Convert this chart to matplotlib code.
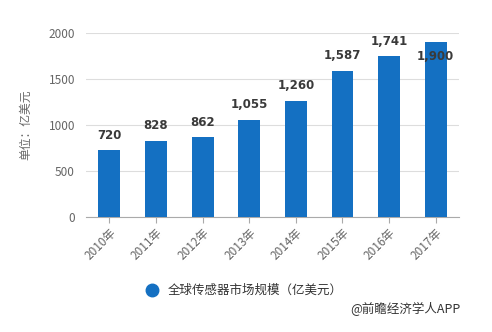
import matplotlib
matplotlib.use("Agg")
import matplotlib.pyplot as plt
from matplotlib.lines import Line2D

plt.rcParams['font.family'] = ['Noto Sans CJK SC', 'DejaVu Sans']

years = ["2010年", "2011年", "2012年", "2013年", "2014年", "2015年", "2016年", "2017年"]
values = [720, 828, 862, 1055, 1260, 1587, 1741, 1900]
yticks = [0, 500, 1000, 1500, 2000]
series_name = "全球传感器市场规模（亿美元）"
bar_color = "#1470c2"
gray = "#666666"

fig = plt.figure(figsize=(4.92, 3.32), dpi=100)
ax = fig.add_axes([0.175, 0.347, 0.758, 0.555])

x = list(range(len(years)))
ax.bar(x, values, width=0.47, color=bar_color, zorder=3)

for i, v in enumerate(values):
    # last label sits just inside the top of the chart
    dy = 6 if i < len(values) - 1 else -15
    ax.annotate("{:,}".format(v), (i, v), xytext=(0, dy), textcoords="offset points",
                ha="center", va="bottom", fontsize=8.5, fontweight="bold",
                color="#3a3a3a", family="DejaVu Sans")

ax.set_xlim(-0.5, len(years) - 0.5)
ax.set_ylim(0, 2000)
ax.set_yticks(yticks)
ax.set_xticks(x)
ax.set_xticklabels(years, rotation=45, ha="right", rotation_mode="anchor")
ax.tick_params(axis="y", length=0, labelsize=8.5, colors=gray, pad=8)
ax.tick_params(axis="x", length=4, color="#aaaaaa", labelsize=8.5, colors=gray, pad=3)
ax.grid(axis="y", color="#dddddd", linewidth=0.8, zorder=0)
for s in ["top", "right", "left"]:
    ax.spines[s].set_visible(False)
ax.spines["bottom"].set_color("#aaaaaa")
ax.set_ylabel("单位：亿美元", fontsize=8.5, color=gray, labelpad=12)

handle = Line2D([], [], marker="o", linestyle="", markersize=9, color=bar_color)
fig.legend([handle], [series_name], loc="center", bbox_to_anchor=(0.49, 0.125),
           frameon=False, fontsize=9, handletextpad=0.3, labelcolor="#333333")
fig.text(0.935, 0.07, "@前瞻经济学人APP", ha="right", va="center", fontsize=9, color="#333333")

fig.savefig("out.png", dpi=100)
